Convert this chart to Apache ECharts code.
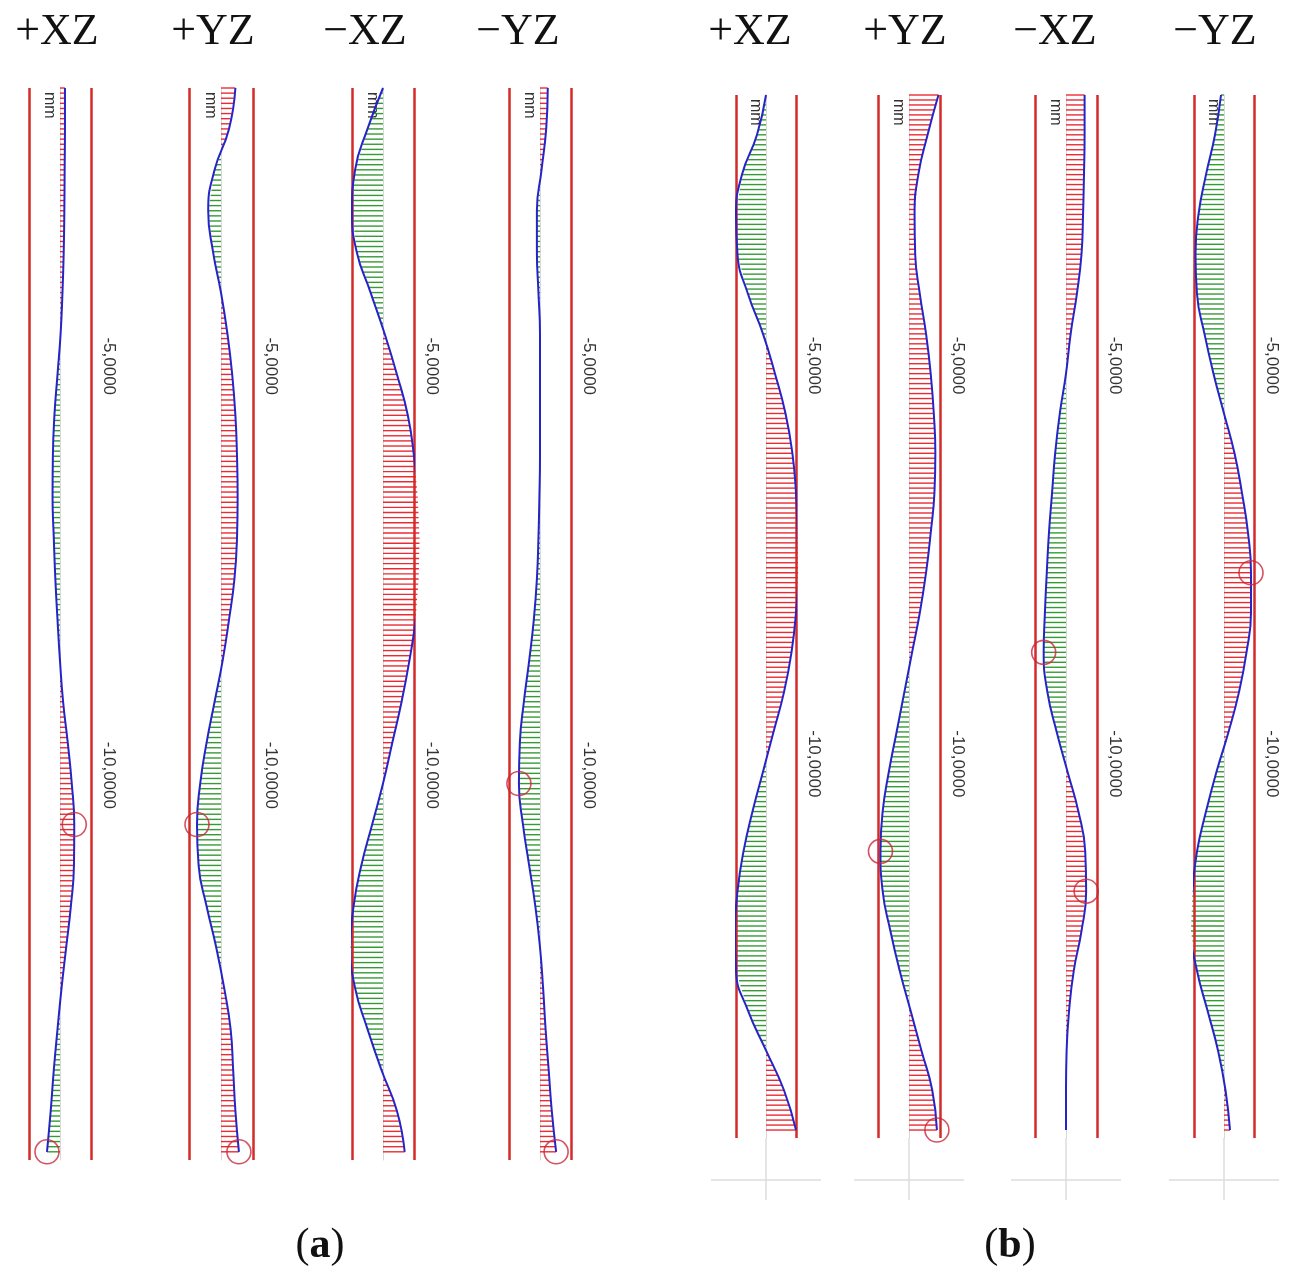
<!DOCTYPE html>
<html>
<head>
<meta charset="utf-8">
<title></title>
<style>
  html, body { margin: 0; padding: 0; background: #fff; }
  #chart { width: 1290px; height: 1278px; }
</style>
<script src="https://cdn.jsdelivr.net/npm/echarts@6/dist/echarts.min.js"></script>
</head>
<body>
<div id="chart"></div>
<script>
// depth knots (m), 0.5 apart, shared by all panels
let depths = [];
for (let k = 0; k < 27; k++) depths.push(1.6 + 0.5 * k);

let titles = ['+XZ', '+YZ', '\u2212XZ', '\u2212YZ', '+XZ', '+YZ', '\u2212XZ', '\u2212YZ'];
// deflection, scaled so the red limit lines sit at -1 / +1
let a1 = [0.16,0.16,0.15,0.14,0.12,0.08,0.02,-0.08,-0.18,-0.23,-0.24,-0.2,-0.15,-0.08,0.0,0.1,0.25,0.38,0.46,0.45,0.35,0.2,0.05,-0.08,-0.2,-0.3,-0.42];
let a2 = [0.45,0.25,-0.2,-0.4,-0.25,0.0,0.2,0.35,0.45,0.5,0.52,0.5,0.42,0.25,0.05,-0.2,-0.45,-0.65,-0.75,-0.7,-0.45,-0.15,0.1,0.3,0.38,0.45,0.56];
let a3 = [0.0,-0.5,-0.9,-1.0,-0.85,-0.4,0.05,0.45,0.8,1.0,1.12,1.18,1.15,1.05,0.85,0.6,0.3,0.0,-0.35,-0.7,-0.95,-1.05,-0.9,-0.5,-0.05,0.45,0.7];
let a4 = [0.25,0.2,0.05,-0.1,-0.1,-0.05,0.0,0.0,0.0,0.0,-0.02,-0.05,-0.1,-0.2,-0.35,-0.52,-0.65,-0.68,-0.55,-0.35,-0.15,0.0,0.1,0.18,0.28,0.38,0.52];
let b1 = [0.0,-0.3,-0.8,-1.0,-0.95,-0.6,-0.1,0.3,0.65,0.88,1.0,1.05,1.07,1.0,0.85,0.6,0.25,-0.1,-0.45,-0.75,-0.95,-1.03,-1.0,-0.6,0.0,0.6,1.0];
let b2 = [0.95,0.6,0.3,0.18,0.2,0.35,0.55,0.7,0.8,0.85,0.82,0.7,0.55,0.35,0.1,-0.15,-0.4,-0.65,-0.85,-0.92,-0.85,-0.6,-0.3,0.05,0.4,0.75,0.9];
let b3 = [0.6,0.6,0.58,0.55,0.5,0.35,0.15,0.0,-0.2,-0.35,-0.45,-0.55,-0.62,-0.68,-0.72,-0.6,-0.3,0.05,0.4,0.62,0.65,0.5,0.25,0.1,0.02,0.0,0.0];
let b4 = [-0.1,-0.3,-0.6,-0.85,-0.95,-0.9,-0.65,-0.35,0.0,0.35,0.6,0.8,0.9,0.9,0.75,0.5,0.15,-0.25,-0.6,-0.9,-1.05,-1.1,-0.9,-0.55,-0.2,0.05,0.2];
let profiles = [a1, a2, a3, a4, b1, b2, b3, b4];
// knots marked with a red circle
let circled = [[18,26],[18,26],[11,21],[17,26],[12,21],[19,26],[14,20],[12,21]];
let depthTicks = [5, 10];

// layout: centre x, half width between red lines
let centers = [60, 221, 383, 540, 766, 909, 1066, 1224];
let halves = [31, 32, 31, 31, 30, 31, 31, 30];
let titleX = [57, 213, 365, 518, 750, 905, 1055, 1215];

let chart = echarts.init(document.getElementById('chart'));
let grid = [], xAxis = [], yAxis = [], series = [];

profiles.forEach((vals, p) => {
  let isA = p < 4;
  let top = isA ? 88 : 95;
  let bottom = isA ? 1278 - 1160 : 1278 - 1138;
  grid.push({ left: centers[p] - halves[p], width: 2 * halves[p], top: top, bottom: bottom });
  xAxis.push({ gridIndex: p, type: 'value', min: -1, max: 1, show: false });
  yAxis.push({
    gridIndex: p, type: 'value', inverse: true, min: 1.6, max: 14.7,
    axisLine: { show: true, onZero: true, lineStyle: { color: '#d8d8d8' } },
    axisTick: { show: false }, axisLabel: { show: false }, splitLine: { show: false }
  });
  yAxis.push({
    gridIndex: p, type: 'value', inverse: true, min: 1.6, max: 14.7, position: 'right',
    axisLine: { show: false }, axisTick: { show: false }, splitLine: { show: false },
    axisLabel: {
      show: true, customValues: depthTicks, rotate: -90, margin: 9,
      fontFamily: 'Liberation Sans', fontSize: 17, color: '#333',
      formatter: v => '-' + v + ',0000'
    }
  });
  let pts = vals.map((v, i) => [v, depths[i]]);
  series.push({
    type: 'custom', xAxisIndex: p, yAxisIndex: 2 * p, data: pts, silent: true,
    renderItem: (params, api) => {
      let i = params.dataIndex;
      let steps = i < vals.length - 1 ? 8 : 1;
      let kids = [];
      for (let s = 0; s < steps; s++) {
        let t = s / 8;
        let x = vals[i] + (i < vals.length - 1 ? t * (vals[i + 1] - vals[i]) : 0);
        let d = depths[i] + t * 0.5;
        let a = api.coord([0, d]), b = api.coord([x, d]);
        kids.push({
          type: 'line', shape: { x1: a[0], y1: a[1], x2: b[0], y2: b[1] },
          style: { stroke: x >= 0 ? '#e8141c' : '#1f8f1f', lineWidth: 1.4, opacity: 0.9 }
        });
      }
      return { type: 'group', children: kids };
    },
    markLine: {
      silent: true, symbol: 'none', label: { show: false },
      lineStyle: { color: '#d42a2a', width: 2.5, type: 'solid' },
      data: [{ xAxis: -1 }, { xAxis: 1 }]
    }
  });
  series.push({
    type: 'line', xAxisIndex: p, yAxisIndex: 2 * p, data: pts, smooth: 0.5,
    showSymbol: false, lineStyle: { color: '#2424c8', width: 2 }, z: 5
  });
  series.push({
    type: 'scatter', xAxisIndex: p, yAxisIndex: 2 * p, z: 6,
    data: circled[p].map(i => pts[i]), symbolSize: 24,
    itemStyle: { color: 'rgba(0,0,0,0)', borderColor: '#c8283a', borderWidth: 1.6 }
  });
});

chart.setOption({ animation: false, grid, xAxis, yAxis, series });

let graphic = [];
titles.forEach((t, p) => {
  graphic.push({
    type: 'text', x: titleX[p], y: 32,
    style: { text: t, fontFamily: 'Liberation Serif', fontSize: 44, fill: '#111', textAlign: 'center', textVerticalAlign: 'middle' }
  });
});
[['a', 320], ['b', 1010]].forEach(([c, x]) => {
  graphic.push({
    type: 'text', x: x, y: 1246,
    style: {
      text: '{n|(}{b|' + c + '}{n|)}', textAlign: 'center', textVerticalAlign: 'middle',
      rich: {
        n: { fontFamily: 'Liberation Serif', fontSize: 42, fill: '#111' },
        b: { fontFamily: 'Liberation Serif', fontSize: 42, fontWeight: 'bold', fill: '#111' }
      }
    }
  });
});
// "mm" unit tag at the top of each centre axis
profiles.forEach((vals, p) => {
  let pos = chart.convertToPixel({ gridIndex: p }, [0, 1.6]);
  graphic.push({
    type: 'text', x: pos[0] - 3, y: pos[1] + 4, rotation: -Math.PI / 2,
    style: { text: 'mm', fontFamily: 'Liberation Sans', fontSize: 16, fill: '#333', textAlign: 'left', textVerticalAlign: 'top' }
  });
  if (p >= 4) {
    let base = chart.convertToPixel({ gridIndex: p }, [0, 14.7]);
    graphic.push({ type: 'line', shape: { x1: base[0] - 55, y1: base[1] + 42, x2: base[0] + 55, y2: base[1] + 42 }, style: { stroke: '#ddd', lineWidth: 1.5 } });
    graphic.push({ type: 'line', shape: { x1: base[0], y1: base[1], x2: base[0], y2: base[1] + 62 }, style: { stroke: '#ddd', lineWidth: 1.5 } });
  }
});
chart.setOption({ graphic });
</script>
</body>
</html>
